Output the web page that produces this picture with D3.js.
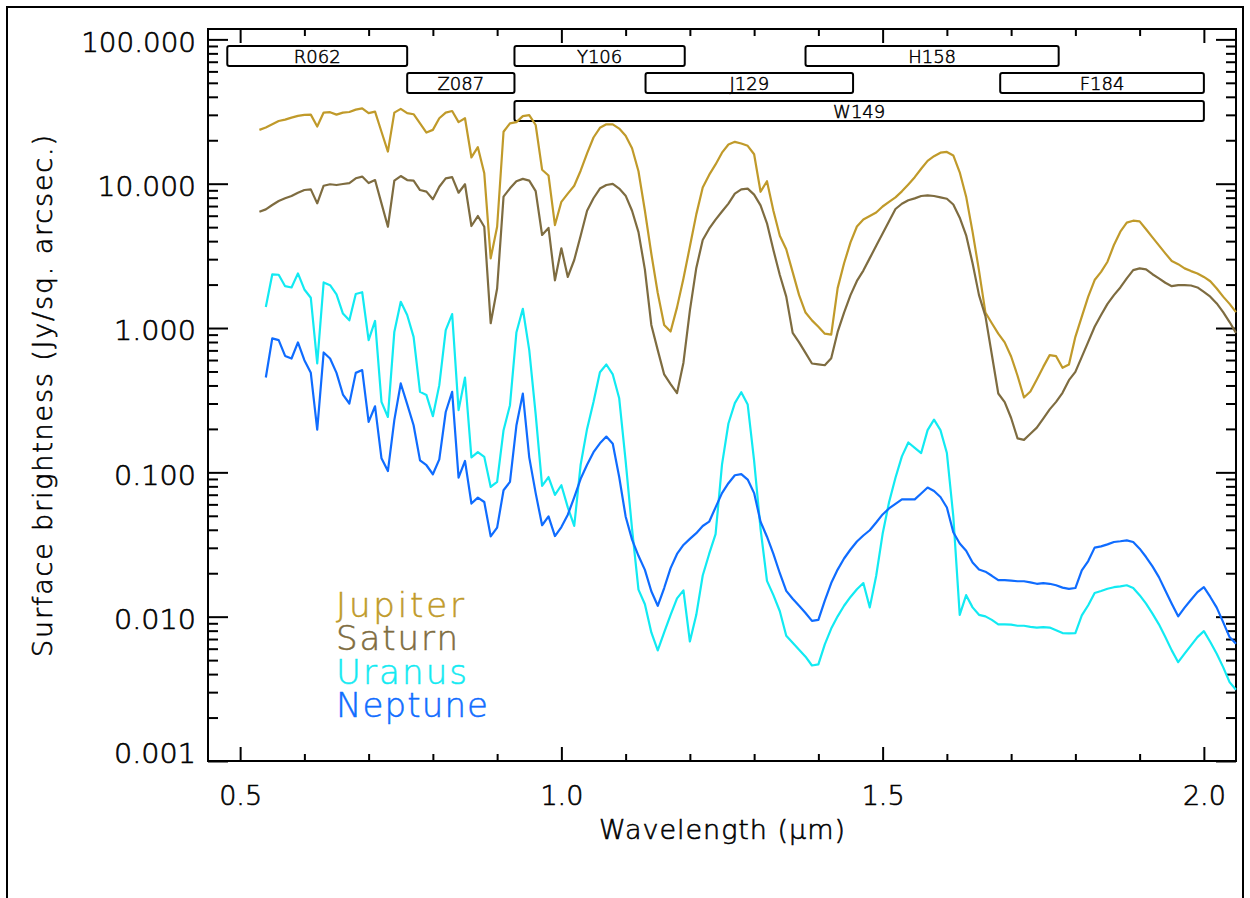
<!DOCTYPE html>
<html>
<head>
<meta charset="utf-8">
<script src="https://cdnjs.cloudflare.com/ajax/libs/d3/7.8.5/d3.min.js"></script>
<style>
  body { margin: 0; background: #fff; }
  svg text { font-family: "DejaVu Sans", sans-serif; font-weight: 200; }
</style>
</head>
<body>
<div id="chart"></div>
<script>
// wavelength grid (micron): 0.01 um steps
const wavelength = [
  0.53,0.54,0.55,0.56,0.57,0.58,0.59,
  0.60,0.61,0.62,0.63,0.64,0.65,0.66,0.67,0.68,0.69,
  0.70,0.71,0.72,0.73,0.74,0.75,0.76,0.77,0.78,0.79,
  0.80,0.81,0.82,0.83,0.84,0.85,0.86,0.87,0.88,0.89,
  0.90,0.91,0.92,0.93,0.94,0.95,0.96,0.97,0.98,0.99,
  1.00,1.01,1.02,1.03,1.04,1.05,1.06,1.07,1.08,1.09,
  1.10,1.11,1.12,1.13,1.14,1.15,1.16,1.17,1.18,1.19,
  1.20,1.21,1.22,1.23,1.24,1.25,1.26,1.27,1.28,1.29,
  1.30,1.31,1.32,1.33,1.34,1.35,1.36,1.37,1.38,1.39,
  1.40,1.41,1.42,1.43,1.44,1.45,1.46,1.47,1.48,1.49,
  1.50,1.51,1.52,1.53,1.54,1.55,1.56,1.57,1.58,1.59,
  1.60,1.61,1.62,1.63,1.64,1.65,1.66,1.67,1.68,1.69,
  1.70,1.71,1.72,1.73,1.74,1.75,1.76,1.77,1.78,1.79,
  1.80,1.81,1.82,1.83,1.84,1.85,1.86,1.87,1.88,1.89,
  1.90,1.91,1.92,1.93,1.94,1.95,1.96,1.97,1.98,1.99,
  2.00,2.01,2.02,2.03,2.04,2.05
];
// Uranus and Neptune start one step later (0.54)
const wavelengthIce = wavelength.slice(1);

// surface brightness, Jy / sq. arcsec
const jupiter = [
  23.6,24.5,25.8,27.2,27.8,28.7,29.5,
  30.0,30.1,24.9,31.1,31.3,30.1,31.1,31.4,32.6,33.3,
  30.8,31.6,22.9,16.7,31.1,33.0,30.8,30.3,26.2,22.6,
  23.6,28.4,31.1,31.9,26.7,28.4,15.2,17.9,11.8,3.04,
  5.03,22.9,26.2,26.7,29.4,29.9,25.5,12.5,11.4,5.17,
  7.49,8.54,9.68,12.3,16.2,20.9,24.4,25.8,25.8,24.1,
  21.5,17.6,12.2,6.50,3.27,1.75,1.05,0.946,1.39,2.20,
  3.67,6.13,9.41,11.5,13.6,16.4,18.7,19.5,19.0,18.3,
  16.0,8.79,10.4,6.50,4.36,3.51,2.44,1.69,1.28,1.13,
  1.02,0.914,0.899,1.89,2.81,3.92,5.05,5.65,5.97,6.31,
  6.95,7.48,8.04,8.85,9.89,11.1,12.7,14.4,15.5,16.4,
  16.6,15.7,12.0,8.13,4.64,2.50,1.28,1.08,0.914,0.795,
  0.635,0.467,0.330,0.363,0.44,0.538,0.649,0.638,0.530,0.559,
  0.869,1.20,1.65,2.15,2.45,2.88,3.76,4.65,5.37,5.54,
  5.48,4.83,4.25,3.74,3.29,2.91,2.77,2.59,2.48,2.39,
  2.26,2.11,1.88,1.65,1.47,1.29
];
const saturn = [
  6.40,6.64,7.12,7.59,7.92,8.22,8.66,
  9.04,9.14,7.31,9.68,9.91,9.79,9.95,10.1,10.9,11.2,
  10.1,10.6,7.31,5.03,10.5,11.3,10.6,10.5,9.04,8.81,
  7.80,9.53,10.9,11.1,8.66,9.91,5.09,5.97,5.03,1.08,
  1.88,8.13,9.29,10.4,10.8,10.5,8.89,4.41,4.94,2.14,
  3.57,2.26,2.96,4.36,6.50,7.93,9.25,9.79,9.97,9.25,
  8.26,6.50,4.62,2.54,1.05,0.703,0.477,0.409,0.354,0.575,
  1.32,2.61,4.07,4.88,5.64,6.42,7.28,8.54,9.14,9.25,
  8.40,7.07,5.32,3.47,2.33,1.65,0.925,0.795,0.672,0.568,
  0.560,0.552,0.617,0.94,1.28,1.69,2.12,2.50,3.05,3.71,
  4.51,5.49,6.68,7.26,7.68,7.91,8.22,8.31,8.22,8.04,
  7.86,7.18,5.81,4.39,2.81,1.69,1.21,0.653,0.352,0.307,
  0.238,0.172,0.168,0.185,0.204,0.236,0.273,0.308,0.356,0.435,
  0.497,0.631,0.802,1.02,1.23,1.47,1.69,1.91,2.21,2.52,
  2.59,2.55,2.36,2.21,2.06,1.95,1.98,1.98,1.97,1.91,
  1.78,1.65,1.48,1.29,1.10,0.926
];
const uranus = [
  1.40,2.35,2.34,1.95,1.91,2.39,
  1.85,1.62,0.568,2.07,1.98,1.71,1.26,1.13,1.72,1.77,
  0.824,1.12,0.308,0.242,0.94,1.52,1.23,0.869,0.361,0.343,
  0.245,0.402,0.967,1.25,0.270,0.454,0.127,0.138,0.128,0.0792,
  0.0858,0.196,0.292,0.93,1.36,0.703,0.252,0.0805,0.0928,0.0698,
  0.0814,0.0572,0.0425,0.113,0.200,0.307,0.494,0.559,0.477,0.326,
  0.120,0.0406,0.0154,0.0122,0.00777,0.00584,0.00777,0.0103,0.0134,0.0152,
  0.00673,0.0103,0.0193,0.0272,0.0373,0.113,0.218,0.302,0.359,0.295,
  0.120,0.0406,0.0177,0.0141,0.0109,0.00738,0.0066,0.0059,0.00528,0.00459,
  0.00467,0.00643,0.00827,0.01005,0.0119,0.0137,0.0155,0.0171,0.0116,0.0192,
  0.0375,0.0621,0.0918,0.129,0.161,0.148,0.136,0.196,0.232,0.196,
  0.136,0.0496,0.0103,0.0141,0.0116,0.0103,0.01005,0.0095,0.00885,0.00885,
  0.0088,0.00865,0.00865,0.0085,0.0084,0.00847,0.0084,0.00804,0.0077,0.00765,
  0.0077,0.0102,0.0120,0.0146,0.01505,0.0156,0.0160,0.0162,0.0165,0.0158,
  0.0141,0.0123,0.0105,0.00885,0.00722,0.00584,0.00484,0.00554,0.00633,0.00722,
  0.00794,0.00667,0.00554,0.00447,0.00352,0.00312
];
const neptune = [
  0.454,0.847,0.824,0.641,0.615,0.795,
  0.599,0.489,0.198,0.677,0.615,0.489,0.346,0.300,0.489,0.511,
  0.224,0.287,0.125,0.102,0.230,0.413,0.297,0.212,0.121,0.112,
  0.097,0.123,0.262,0.361,0.092,0.120,0.0608,0.0668,0.0623,0.0360,
  0.0414,0.0752,0.0858,0.211,0.351,0.127,0.0718,0.043,0.0495,0.0362,
  0.0418,0.0509,0.0671,0.0902,0.113,0.138,0.159,0.177,0.158,0.0928,
  0.0495,0.0342,0.0264,0.0211,0.0150,0.0119,0.0158,0.0217,0.0272,0.0314,
  0.0346,0.0379,0.0425,0.0455,0.0572,0.0718,0.0841,0.0955,0.0972,0.0891,
  0.0718,0.0455,0.0358,0.0272,0.0200,0.0151,0.0133,0.0119,0.0106,0.00935,
  0.0095,0.0129,0.0171,0.0212,0.0253,0.0292,0.0332,0.0365,0.0397,0.0449,
  0.0511,0.0562,0.0604,0.0650,0.0650,0.0650,0.0714,0.0785,0.0743,0.0675,
  0.0571,0.0385,0.0321,0.0286,0.0237,0.0212,0.0205,0.0192,0.0179,0.0179,
  0.0178,0.0176,0.0176,0.0173,0.0169,0.0171,0.0169,0.0165,0.0159,0.0156,
  0.0158,0.0209,0.0243,0.0301,0.0307,0.0317,0.0329,0.0333,0.0338,0.0329,
  0.0296,0.0259,0.0223,0.0188,0.0152,0.0123,0.01005,0.01155,0.0131,0.0148,
  0.0160,0.0137,0.01155,0.00917,0.00722,0.0065
];

const planetNames = ["Jupiter", "Saturn", "Uranus", "Neptune"];
const planetColors = ["#c09a2a", "#7e6c40", "#12eaf2", "#0f6cff"];

// Roman filter bandpasses (micron)
const filterNames = ["R062", "Z087", "Y106", "J129", "H158", "F184", "W149"];
const filterStart = [0.48, 0.76, 0.927, 1.131, 1.380, 1.683, 0.927];
const filterEnd   = [0.76, 0.927, 1.192, 1.454, 1.774, 2.000, 2.000];

const yTickValues = [0.001, 0.01, 0.1, 1, 10, 100];
const yTickLabels = ["0.001", "0.010", "0.100", "1.000", "10.000", "100.000"];
const xTickValues = [0.5, 1.0, 1.5, 2.0];
const xTickLabels = ["0.5", "1.0", "1.5", "2.0"];

var width = 1250, height = 898;
var plot = {left: 208, right: 1236, top: 29, bottom: 761};

var svg = d3.select("#chart").append("svg")
  .attr("width", width)
  .attr("height", height);

// outer frame
svg.append("rect")
  .attr("x", 7).attr("y", 7)
  .attr("width", 1236).attr("height", 900)
  .style("fill", "none").style("stroke", "#000").style("stroke-width", 2);

var x = d3.scaleLinear().domain([0.45, 2.05]).range([plot.left, plot.right]);
var y = d3.scaleLog().domain([0.001, 118]).range([plot.bottom, plot.top]);

// minor tick positions
var yMinor = [];
yTickValues.forEach(function(d) {
  for (var k = 2; k <= 9; k++) if (d * k < 118) yMinor.push(d * k);
});
var xMinor = d3.range(5, 21).map(function(i) { return i / 10; })
  .filter(function(v) { return xTickValues.indexOf(v) < 0; });

function styleAxis(g) {
  g.select(".domain").remove();
  g.selectAll("line").style("stroke", "#000").style("stroke-width", 2);
  g.selectAll("text").style("font-size", "27px").style("fill", "#000")
    .style("stroke", "#000").style("stroke-width", 0.6);
}

// left axis
svg.append("g").attr("transform", "translate(" + plot.left + ",0)")
  .call(d3.axisLeft(y).tickValues(yMinor).tickSize(-10).tickFormat(""))
  .call(styleAxis);
var yAx = svg.append("g").attr("transform", "translate(" + plot.left + ",0)")
  .call(d3.axisLeft(y).tickValues(yTickValues).tickSize(-20).tickPadding(12)
    .tickFormat(function(d, i) { return yTickLabels[i]; }))
  .call(styleAxis);
yAx.selectAll("text")
  .attr("dy", function(d) { return d === 0.001 ? "0.04em" : "0.44em"; })
  .attr("textLength", function(d, i) { return yTickLabels[i].length * 16.4; })
  .attr("lengthAdjust", "spacingAndGlyphs");

// right axis
svg.append("g").attr("transform", "translate(" + plot.right + ",0)")
  .call(d3.axisRight(y).tickValues(yMinor).tickSize(-10).tickFormat(""))
  .call(styleAxis);
svg.append("g").attr("transform", "translate(" + plot.right + ",0)")
  .call(d3.axisRight(y).tickValues(yTickValues).tickSize(-20).tickFormat(""))
  .call(styleAxis);

// bottom axis
svg.append("g").attr("transform", "translate(0," + plot.bottom + ")")
  .call(d3.axisBottom(x).tickValues(xMinor).tickSize(-7).tickFormat(""))
  .call(styleAxis);
svg.append("g").attr("transform", "translate(0," + plot.bottom + ")")
  .call(d3.axisBottom(x).tickValues(xTickValues).tickSize(-14).tickPadding(25)
    .tickFormat(function(d, i) { return xTickLabels[i]; }))
  .call(styleAxis);

// top axis
svg.append("g").attr("transform", "translate(0," + plot.top + ")")
  .call(d3.axisTop(x).tickValues(xMinor).tickSize(-7).tickFormat(""))
  .call(styleAxis);
svg.append("g").attr("transform", "translate(0," + plot.top + ")")
  .call(d3.axisTop(x).tickValues(xTickValues).tickSize(-14).tickFormat(""))
  .call(styleAxis);

// plot frame
svg.append("rect")
  .attr("x", plot.left).attr("y", plot.top)
  .attr("width", plot.right - plot.left).attr("height", plot.bottom - plot.top)
  .style("fill", "none").style("stroke", "#000").style("stroke-width", 2);

// axis titles
svg.append("text")
  .attr("x", 722).attr("y", 839)
  .attr("text-anchor", "middle")
  .attr("textLength", 246).attr("lengthAdjust", "spacing")
  .style("font-size", "27px")
  .style("stroke", "#000").style("stroke-width", 0.6)
  .text("Wavelength (\u03bcm)");

svg.append("text")
  .attr("transform", "translate(52,396) rotate(-90)")
  .attr("text-anchor", "middle")
  .attr("textLength", 522).attr("lengthAdjust", "spacing")
  .style("font-size", "27px")
  .style("stroke", "#000").style("stroke-width", 0.6)
  .text("Surface brightness (Jy/sq. arcsec.)");

// filter boxes
var boxRow = {R062: 0, Y106: 0, H158: 0, Z087: 1, J129: 1, F184: 1, W149: 2};
var rowTop = [46, 73, 101];
var boxes = svg.append("g").selectAll("g")
  .data(filterNames)
  .enter().append("g");
boxes.append("rect")
  .attr("x", function(d, i) { return x(filterStart[i]); })
  .attr("y", function(d) { return rowTop[boxRow[d]]; })
  .attr("width", function(d, i) { return x(filterEnd[i]) - x(filterStart[i]); })
  .attr("height", 20)
  .attr("rx", 2)
  .style("fill", "none").style("stroke", "#000").style("stroke-width", 2);
boxes.append("text")
  .attr("x", function(d, i) { return (x(filterStart[i]) + x(filterEnd[i])) / 2; })
  .attr("y", function(d) { return rowTop[boxRow[d]] + 17; })
  .attr("text-anchor", "middle")
  .style("font-size", "18px")
  .style("stroke", "#000").style("stroke-width", 0.5)
  .text(function(d) { return d; });

// spectra
var series = [
  {x: wavelength, v: jupiter},
  {x: wavelength, v: saturn},
  {x: wavelengthIce, v: uranus},
  {x: wavelengthIce, v: neptune}
];
var line = d3.line()
  .x(function(d) { return x(d[0]); })
  .y(function(d) { return y(d[1]); });

svg.append("g").selectAll("path")
  .data(series)
  .enter().append("path")
  .attr("d", function(s) { return line(d3.zip(s.x, s.v)); })
  .style("fill", "none")
  .style("stroke", function(s, i) { return planetColors[i]; })
  .style("stroke-width", 2.2)
  .style("stroke-linejoin", "round");

// legend (widths match the wide plotting font of the original)
var legendWidth = [128, 122, 131, 152];
svg.append("g").selectAll("text")
  .data(planetNames)
  .enter().append("text")
  .attr("x", 336)
  .attr("y", function(d, i) { return 617 + i * 33.4; })
  .attr("textLength", function(d, i) { return legendWidth[i]; })
  .attr("lengthAdjust", "spacing")
  .style("font-size", "34px")
  .style("fill", function(d, i) { return planetColors[i]; })
  .style("stroke", function(d, i) { return planetColors[i]; })
  .style("stroke-width", 0.5)
  .text(function(d) { return d; });
</script>
</body>
</html>
